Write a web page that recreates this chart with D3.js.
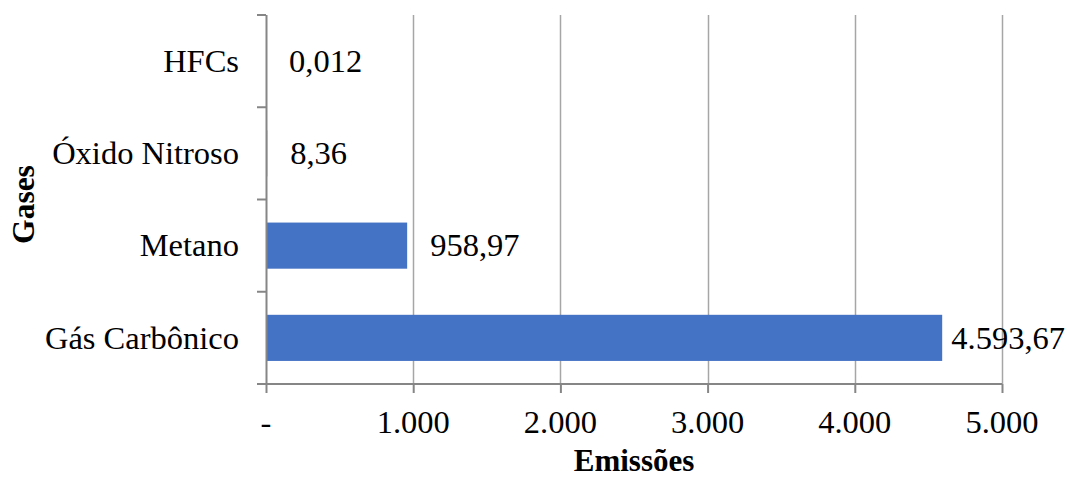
<!DOCTYPE html>
<html>
<head>
<meta charset="utf-8">
<script src="https://cdn.jsdelivr.net/npm/d3@7"></script>
<style>
  html, body { margin: 0; padding: 0; background: #fff; }
  svg { display: block; }
  text { font-family: "Liberation Serif", "Times New Roman", serif; fill: #000; }
</style>
</head>
<body>
<svg id="chart" width="1069" height="480"></svg>
<script>
// Emissions by greenhouse gas
const categories = ["Gás Carbônico", "Metano", "Óxido Nitroso", "HFCs"];
const emissions = [4593.67, 958.97, 8.36, 0.012];
const valueLabels = ["4.593,67", "958,97", "8,36", "0,012"];
const xTicks = [0, 1000, 2000, 3000, 4000, 5000];
const xTickLabels = ["-", "1.000", "2.000", "3.000", "4.000", "5.000"];

const W = 1069, H = 480;
const margin = { left: 266, right: 67, top: 15, bottom: 96 };
const plotW = W - margin.left - margin.right;
const plotH = H - margin.top - margin.bottom;
const fontSize = 32.5;

const svg = d3.select("#chart");
const g = svg.append("g").attr("transform", `translate(${margin.left},${margin.top})`);

const x = d3.scaleLinear().domain([0, 5000]).range([0, plotW]);
const y = d3.scaleBand().domain(categories.slice().reverse()).range([0, plotH]).paddingInner(0.5).paddingOuter(0.25);
const yEdges = d3.scalePoint().domain(d3.range(categories.length + 1)).range([0, plotH]);

// vertical gridlines
g.selectAll("line.grid").data(xTicks.filter(d => d > 0)).join("line")
  .attr("class", "grid")
  .attr("x1", d => Math.round(x(d)) + 0.5).attr("x2", d => Math.round(x(d)) + 0.5)
  .attr("y1", 0).attr("y2", plotH)
  .attr("stroke", "#a6a6a6").attr("stroke-width", 1.5);

// bars
g.selectAll("rect.bar").data(categories).join("rect")
  .attr("class", "bar")
  .attr("x", 0)
  .attr("y", d => y(d))
  .attr("width", (d, i) => x(emissions[i]))
  .attr("height", y.bandwidth())
  .attr("fill", "#4472c4");

// y axis line and category boundary ticks
const axisColor = "#868686";
g.append("line").attr("x1", 0.5).attr("x2", 0.5).attr("y1", 0).attr("y2", plotH)
  .attr("stroke", axisColor).attr("stroke-width", 2);
g.selectAll("line.ytick").data(yEdges.domain()).join("line")
  .attr("class", "ytick")
  .attr("x1", -9).attr("x2", 0)
  .attr("y1", d => yEdges(d)).attr("y2", d => yEdges(d))
  .attr("stroke", axisColor).attr("stroke-width", 2);

// x axis line and ticks
g.append("line").attr("x1", 0).attr("x2", plotW).attr("y1", plotH).attr("y2", plotH)
  .attr("stroke", axisColor).attr("stroke-width", 2);
g.selectAll("line.xtick").data(xTicks).join("line")
  .attr("class", "xtick")
  .attr("x1", d => x(d) + 0.5).attr("x2", d => x(d) + 0.5)
  .attr("y1", plotH).attr("y2", plotH + 9)
  .attr("stroke", axisColor).attr("stroke-width", 2);

// x tick labels
g.selectAll("text.xlabel").data(xTicks).join("text")
  .attr("class", "xlabel")
  .attr("x", d => x(d))
  .attr("y", plotH + 49)
  .attr("text-anchor", "middle")
  .attr("font-size", fontSize)
  .text((d, i) => xTickLabels[i]);

// category labels
g.selectAll("text.ylabel").data(categories).join("text")
  .attr("class", "ylabel")
  .attr("x", -27)
  .attr("y", d => y(d) + y.bandwidth() / 2)
  .attr("dy", "0.33em")
  .attr("text-anchor", "end")
  .attr("font-size", fontSize)
  .text(d => d);

// value labels, kept inside the canvas
g.selectAll("text.value").data(categories).join("text")
  .attr("class", "value")
  .attr("y", d => y(d) + y.bandwidth() / 2)
  .attr("dy", "0.33em")
  .attr("font-size", fontSize)
  .text((d, i) => valueLabels[i])
  .each(function (d, i) {
    const w = this.getComputedTextLength();
    const maxX = W - margin.left - 4 - w;
    d3.select(this).attr("x", Math.min(x(emissions[i]) + 23, maxX));
  });

// axis titles
svg.append("text")
  .attr("x", margin.left + plotW / 2)
  .attr("y", 471)
  .attr("text-anchor", "middle")
  .attr("font-size", 31)
  .attr("font-weight", "bold")
  .text("Emissões");

svg.append("text")
  .attr("transform", `translate(34,${margin.top + plotH / 2 + 5}) rotate(-90)`)
  .attr("text-anchor", "middle")
  .attr("font-size", 31.5)
  .attr("font-weight", "bold")
  .text("Gases");
</script>
</body>
</html>
